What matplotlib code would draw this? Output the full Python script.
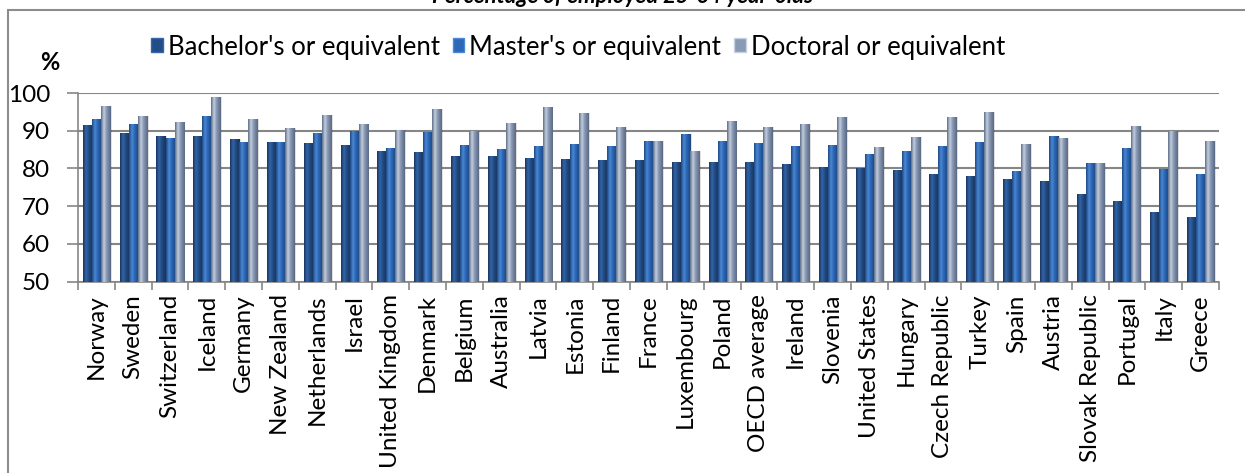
import matplotlib
matplotlib.use("Agg")
import matplotlib.pyplot as plt
import numpy as np
from matplotlib.colors import LinearSegmentedColormap
from matplotlib.patches import Rectangle, Patch

countries = ["Norway", "Sweden", "Switzerland", "Iceland", "Germany", "New Zealand",
             "Netherlands", "Israel", "United Kingdom", "Denmark", "Belgium", "Australia",
             "Latvia", "Estonia", "Finland", "France", "Luxembourg", "Poland",
             "OECD average", "Ireland", "Slovenia", "United States", "Hungary",
             "Czech Republic", "Turkey", "Spain", "Austria", "Slovak Republic",
             "Portugal", "Italy", "Greece"]

bachelor = [91.4, 89.4, 88.6, 88.5, 87.9, 87.1, 86.7, 86.3, 84.6, 84.3, 83.4, 83.2,
            82.9, 82.5, 82.2, 82.2, 81.7, 81.7, 81.7, 81.1, 80.5, 80.1, 79.6,
            78.5, 78.0, 77.2, 76.6, 73.3, 71.5, 68.4, 67.1]
master = [93.2, 91.7, 88.2, 94.0, 87.1, 86.9, 89.4, 89.8, 85.5, 89.6, 86.2, 85.1,
          85.9, 86.4, 85.9, 87.4, 89.1, 87.4, 86.7, 85.9, 86.2, 83.8, 84.6,
          85.9, 87.0, 79.3, 88.6, 81.4, 85.4, 79.8, 78.6]
doctoral = [96.5, 93.9, 92.4, 98.9, 93.0, 90.6, 94.1, 91.9, 90.2, 95.8, 89.8, 92.0,
            96.4, 94.6, 91.1, 87.4, 84.6, 92.7, 91.1, 91.8, 93.6, 85.6, 88.3,
            93.6, 94.9, 86.4, 88.0, 81.4, 91.2, 89.9, 87.2]

series_names = ["Bachelor's or equivalent", "Master's or equivalent", "Doctoral or equivalent"]

# edge / body / highlight colours for the cylinder-like shading of each series
shades = [("#17325a", "#234d86", "#3467ab"),
          ("#1c4680", "#2c68b8", "#4c8ad6"),
          ("#5a6882", "#8a9ab5", "#c6d1e3")]

plt.rcParams["font.family"] = ["Lato", "DejaVu Sans"]

fig = plt.figure(figsize=(12.45, 4.73), dpi=100)
ax = fig.add_axes([78 / 1245, 1 - 281.7 / 473, (1219 - 78) / 1245, (281.7 - 93) / 473])

ymin, ymax = 50, 100
x = np.arange(len(countries))
w = 0.245
grad = np.linspace(0, 1, 64).reshape(1, -1)

for k, vals in enumerate([bachelor, master, doctoral]):
    edge, body, hi = shades[k]
    cmap = LinearSegmentedColormap.from_list(
        "s%d" % k, [(0, edge), (0.3, hi), (0.55, body), (1, edge)])
    # soft shadow to the right of each bar
    ax.bar(x + (k - 1) * w + 0.05, vals, w, color="#000000", alpha=0.12, zorder=2)
    bars = ax.bar(x + (k - 1) * w, vals, w, color=body, zorder=3)
    for b in bars:
        x0, h = b.get_x(), b.get_height()
        im = ax.imshow(grad, cmap=cmap, extent=[x0, x0 + b.get_width(), ymin, h],
                       aspect="auto", interpolation="bicubic", zorder=4)
        im.set_clip_path(b)

ax.set_xlim(-0.5, len(countries) - 0.5)
ax.set_ylim(ymin, ymax)
ax.set_yticks(range(ymin, ymax + 1, 10))
ax.yaxis.grid(True, color="#868686", linewidth=1.5, zorder=0)
ax.set_axisbelow(True)

ax.set_xticks(x)
ax.set_xticklabels(countries, rotation=90, fontsize=17.5)
ax.set_xticks(np.arange(-0.5, len(countries)), minor=True)
ax.tick_params(axis="x", which="major", length=0, pad=9)
ax.tick_params(axis="x", which="minor", length=6, width=1.2, color="#868686")
ax.tick_params(axis="y", length=8, width=1.2, color="#868686", labelsize=17.5, pad=12)

for s in ["top", "right"]:
    ax.spines[s].set_visible(False)
for s in ["left", "bottom"]:
    ax.spines[s].set_color("#868686")
    ax.spines[s].set_linewidth(1.2)

# outer chart frame
fig.patches.append(Rectangle((8 / 1245, -0.2), 1.2, 1.2 - 10 / 473, transform=fig.transFigure,
                             fill=False, edgecolor="#8c8c8c", linewidth=1.5))

fig.text(0.5, 1 - 3 / 473, "Percentage of employed 25-64 year-olds", ha="center", va="baseline",
         fontsize=16, fontweight="bold", fontstyle="italic")
fig.text(50 / 1245, 1 - 63 / 473, "%", ha="center", va="center", fontsize=17, fontweight="bold")

handles = [Patch(facecolor=shades[k][1], edgecolor=shades[k][2]) for k in range(3)]
fig.legend(handles, series_names, loc="center", bbox_to_anchor=(578 / 1245, 1 - 47 / 473),
           ncol=3, frameon=False, fontsize=18.5, handlelength=0.45, handleheight=0.45,
           handletextpad=0.2, columnspacing=0.5)

fig.savefig("out.png", dpi=100)
